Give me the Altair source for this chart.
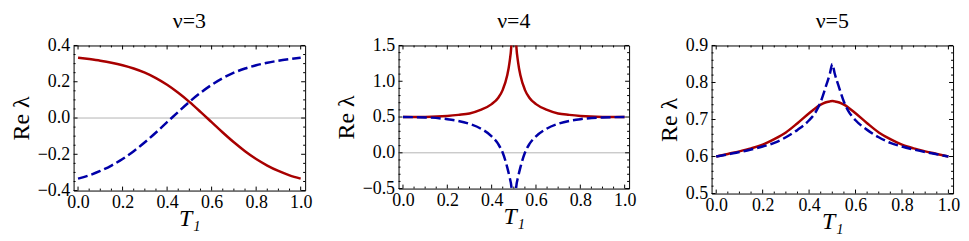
import altair as alt
import pandas as pd

FONT = "Liberation Serif"
RED = "#A80000"
BLUE = "#0000A8"

# ---- nu = 3 ----
T_A = [0.0, 0.05, 0.1, 0.15, 0.2, 0.25, 0.3, 0.35, 0.4, 0.45, 0.5,
       0.55, 0.6, 0.65, 0.7, 0.75, 0.8, 0.85, 0.9, 0.95, 1.0]
RED_A = [0.333, 0.325, 0.316, 0.305, 0.291, 0.273, 0.25, 0.22, 0.183, 0.139, 0.089,
         0.034, -0.023, -0.08, -0.134, -0.183, -0.226, -0.262, -0.292, -0.316, -0.334]
BLUE_A = [-0.334, -0.316, -0.292, -0.262, -0.226, -0.183, -0.134, -0.08, -0.023, 0.034, 0.089,
          0.139, 0.183, 0.22, 0.25, 0.273, 0.291, 0.305, 0.316, 0.325, 0.333]

# ---- nu = 4 ----
T_B = [0.0, 0.1, 0.2, 0.25, 0.3, 0.35, 0.4, 0.43, 0.45, 0.47, 0.48, 0.49, 0.495, 0.5,
       0.505, 0.51, 0.52, 0.53, 0.55, 0.57, 0.6, 0.65, 0.7, 0.75, 0.8, 0.9, 1.0]
RED_B = [0.5, 0.502, 0.515, 0.53, 0.55, 0.6, 0.68, 0.77, 0.88, 1.08, 1.25, 1.55, 1.9, 2.3,
         1.9, 1.55, 1.25, 1.08, 0.88, 0.77, 0.68, 0.6, 0.55, 0.53, 0.515, 0.502, 0.5]
BLUE_B = [0.5, 0.495, 0.47, 0.445, 0.405, 0.34, 0.23, 0.12, 0.0, -0.2, -0.33, -0.5, -0.8, -1.2,
          -0.8, -0.5, -0.33, -0.2, 0.0, 0.12, 0.23, 0.34, 0.405, 0.445, 0.47, 0.495, 0.5]

# ---- nu = 5 ----
T_C = [0.0, 0.05, 0.1, 0.15, 0.2, 0.25, 0.3, 0.35, 0.4, 0.43, 0.45, 0.47, 0.49, 0.5,
       0.51, 0.53, 0.55, 0.57, 0.6, 0.65, 0.7, 0.75, 0.8, 0.85, 0.9, 0.95, 1.0]
RED_C = [0.6, 0.607, 0.614, 0.622, 0.632, 0.647, 0.665, 0.69, 0.717, 0.732, 0.74, 0.746, 0.749, 0.75,
         0.749, 0.746, 0.74, 0.732, 0.717, 0.69, 0.665, 0.647, 0.632, 0.622, 0.614, 0.607, 0.6]
BLUE_C = [0.6, 0.606, 0.612, 0.619, 0.627, 0.637, 0.652, 0.672, 0.698, 0.722, 0.748, 0.785, 0.825, 0.85,
          0.825, 0.785, 0.748, 0.722, 0.698, 0.672, 0.652, 0.637, 0.627, 0.619, 0.612, 0.606, 0.6]

# tick values
X_MAJOR = [0.0, 0.2, 0.4, 0.6, 0.8, 1.0]
X_MINOR = [0.05, 0.1, 0.15, 0.25, 0.3, 0.35, 0.45, 0.5, 0.55, 0.65, 0.7, 0.75, 0.85, 0.9, 0.95]
Y_MAJOR_A = [-0.4, -0.2, 0.0, 0.2, 0.4]
Y_MAJOR_B = [-0.5, 0.0, 0.5, 1.0, 1.5]
Y_MAJOR_C = [0.5, 0.6, 0.7, 0.8, 0.9]


def minor_between(major, n):
    out = []
    for a, b in zip(major[:-1], major[1:]):
        for k in range(1, n):
            out.append(round(a + (b - a) * k / n, 4))
    return out


def panel(title, T, red, blue, ydom, ymajor, ysub, zero_line, W, H):
    df = pd.DataFrame({"T": T, "red": red, "blue": blue})
    xs = alt.Scale(domain=[-0.02, 1.02], nice=False, zero=False)
    ys = alt.Scale(domain=ydom, nice=False, zero=False)
    xaxis = alt.Axis(values=X_MAJOR, format=".1f", title="T₁", titleFontStyle="italic",
                     labelFont=FONT, titleFont=FONT, labelFontSize=18, titleFontSize=24,
                     titleFontWeight="normal", labelColor="black", titleColor="black",
                     ticks=False, domain=False, grid=False,
                     labelPadding=3, titlePadding=-5, labelFlush=False)
    yaxis = alt.Axis(values=ymajor, format=".1f", title="Re λ",
                     labelFont=FONT, titleFont=FONT, labelFontSize=18, titleFontSize=24,
                     titleFontWeight="normal", labelColor="black", titleColor="black",
                     ticks=False, domain=False, grid=False,
                     labelPadding=4, titlePadding=4)

    def X(f):
        return alt.X(f, scale=xs, axis=xaxis)

    def Y(f):
        return alt.Y(f, scale=ys, axis=yaxis)

    layers = []
    if zero_line:
        layers.append(alt.Chart(pd.DataFrame({"y": [0.0]})).mark_rule(
            color="#b4b4b4", strokeWidth=1).encode(y=Y("y:Q")))

    layers.append(alt.Chart(df).mark_line(color=RED, strokeWidth=2.5, clip=True,
                                          interpolate="monotone").encode(
        x=X("T:Q"), y=Y("red:Q")))
    layers.append(alt.Chart(df).mark_line(color=BLUE, strokeWidth=2.5, clip=True,
                                          strokeDash=[10, 4], interpolate="monotone").encode(
        x=X("T:Q"), y=Y("blue:Q")))

    xmaj = pd.DataFrame({"v": X_MAJOR})
    xmin = pd.DataFrame({"v": X_MINOR})
    ymaj = pd.DataFrame({"v": ymajor})
    ymin = pd.DataFrame({"v": minor_between(ymajor, ysub)})
    for d, L in ((xmaj, 4), (xmin, 2)):
        layers.append(alt.Chart(d).mark_rule(color="black", strokeWidth=1).encode(
            x=X("v:Q"), y=alt.value(0), y2=alt.value(L)))
        layers.append(alt.Chart(d).mark_rule(color="black", strokeWidth=1).encode(
            x=X("v:Q"), y=alt.value(H), y2=alt.value(H - L)))
    for d, L in ((ymaj, 4), (ymin, 2)):
        layers.append(alt.Chart(d).mark_rule(color="black", strokeWidth=1).encode(
            y=Y("v:Q"), x=alt.value(0), x2=alt.value(L)))
        layers.append(alt.Chart(d).mark_rule(color="black", strokeWidth=1).encode(
            y=Y("v:Q"), x=alt.value(W), x2=alt.value(W - L)))

    return alt.layer(*layers).properties(
        width=W, height=H,
        title=alt.TitleParams(title, offset=4, font=FONT, fontSize=22,
                              fontWeight="normal", color="black", anchor="middle"))


p1 = panel("ν=3", T_A, RED_A, BLUE_A, [-0.4, 0.4], Y_MAJOR_A, 4, True, 233, 146)
p2 = panel("ν=4", T_B, RED_B, BLUE_B, [-0.5, 1.5], Y_MAJOR_B, 5, True, 232, 144)
p3 = panel("ν=5", T_C, RED_C, BLUE_C, [0.5, 0.9], Y_MAJOR_C, 5, False, 243, 149)

chart = alt.hconcat(p1, p2, p3, spacing=20).configure_view(
    stroke="black", strokeWidth=1
).properties(background="white", padding=0)

chart.save("out.html", embed_options={"renderer": "svg", "actions": False})
